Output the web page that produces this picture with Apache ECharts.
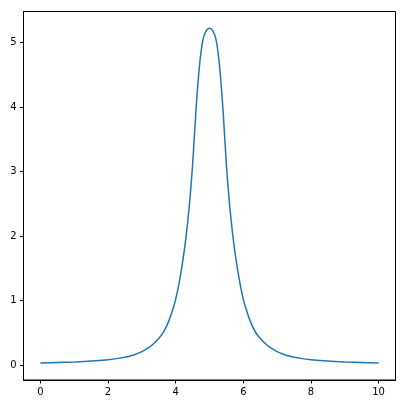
<!DOCTYPE html>
<html>
<head>
<meta charset="utf-8">
<script src="https://cdn.jsdelivr.net/npm/echarts@6/dist/echarts.min.js"></script>
<style>
  html, body { margin: 0; padding: 0; background: #fff; }
  #chart { width: 406px; height: 406px; }
</style>
</head>
<body>
<div id="chart"></div>
<script>
// values
const xs = [0, 0.5, 1.0, 1.5, 2.0, 2.3, 2.6, 2.8, 3.0, 3.2, 3.4, 3.6, 3.7, 3.8, 3.9,
            4.0, 4.1, 4.2, 4.3, 4.4, 4.5, 4.6, 4.7, 4.8, 4.9, 5.0,
            5.1, 5.2, 5.3, 5.4, 5.5, 5.6, 5.7, 5.8, 5.9, 6.0,
            6.1, 6.2, 6.3, 6.4, 6.6, 6.8, 7.0, 7.2, 7.4, 7.7, 8.0, 8.5, 9.0, 9.5, 10.0];
const ys = [0.035, 0.042, 0.05, 0.063, 0.085, 0.105, 0.135, 0.165, 0.21, 0.27, 0.36, 0.48, 0.57, 0.69, 0.84,
            1.02, 1.27, 1.58, 1.96, 2.45, 3.10, 3.95, 4.62, 5.03, 5.18, 5.22,
            5.18, 5.03, 4.62, 3.95, 3.10, 2.45, 1.96, 1.58, 1.27, 1.02,
            0.84, 0.69, 0.57, 0.48, 0.36, 0.27, 0.21, 0.165, 0.135, 0.105, 0.085, 0.063, 0.05, 0.042, 0.035];
const xTicks = [0, 2, 4, 6, 8, 10];
const yTicks = [0, 1, 2, 3, 4, 5];

const chart = echarts.init(document.getElementById("chart"));

const axisText = { color: "#000", fontSize: 10, fontFamily: "DejaVu Sans" };

chart.setOption({
    animation: false,
    backgroundColor: "#fff",
    grid: {
        left: 23.5,
        right: 10.5,
        top: 11.5,
        bottom: 26,
        show: true,
        borderColor: "#000",
        borderWidth: 1
    },
    xAxis: {
        type: "value",
        min: -0.5,
        max: 10.5,
        splitLine: { show: false },
        axisLine: { show: true, onZero: false, lineStyle: { color: "#000", width: 1 } },
        axisTick: { show: true, length: 3.5, customValues: xTicks, lineStyle: { color: "#000" } },
        axisLabel: Object.assign({ margin: 7, customValues: xTicks }, axisText)
    },
    yAxis: {
        type: "value",
        min: -0.23,
        max: 5.48,
        splitLine: { show: false },
        axisLine: { show: true, onZero: false, lineStyle: { color: "#000", width: 1 } },
        axisTick: { show: true, length: 3.5, customValues: yTicks, lineStyle: { color: "#000" } },
        axisLabel: Object.assign({ margin: 7, customValues: yTicks }, axisText)
    },
    series: [
        {
            type: "line",
            data: xs.map((x, i) => [x, ys[i]]),
            smooth: 0.3,
            showSymbol: false,
            lineStyle: { color: "#1f77b4", width: 1.5 }
        }
    ]
});
</script>
</body>
</html>
